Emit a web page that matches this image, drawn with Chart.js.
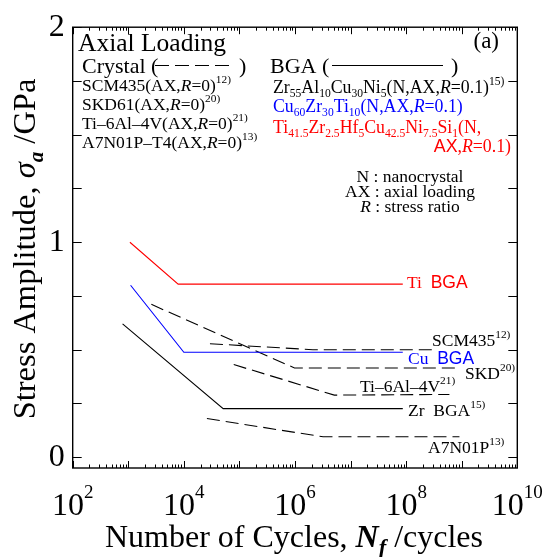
<!DOCTYPE html>
<html><head><meta charset="utf-8">
<script src="https://cdn.jsdelivr.net/npm/chart.js@4.4.1/dist/chart.umd.min.js"></script>
<style>html,body{margin:0;padding:0;background:#fff}#wrap{width:552px;height:557px;position:relative}</style>
</head><body><div id="wrap"><canvas id="c" width="552" height="557"></canvas></div>
<script>
// ---- data (x = number of cycles, y = stress amplitude / GPa) ----
const xTickValues = [1e2, 1e4, 1e6, 1e8, 1e10];
const xTickExponents = ['2', '4', '6', '8', '10'];
const yTickValues = [0, 0.25, 0.5, 0.75, 1, 1.25, 1.5, 1.75, 2];
const yTickLabels = {0: '0', 1: '1', 2: '2'};

const tiBgaN  = [1.07e3, 7.9e3, 8.7e7];  const tiBgaS  = [1.00, 0.805, 0.805];
const cuBgaN  = [1.1e3, 1.0e4, 8.7e7];   const cuBgaS  = [0.80, 0.488, 0.488];
const zrBgaN  = [7.9e2, 5.1e4, 8.7e7];   const zrBgaS  = [0.62, 0.226, 0.226];
const scm435N = [2.95e4, 2.1e6, 3.0e8];  const scm435S = [0.528, 0.50, 0.50];
const skdN    = [2.6e3, 9.8e5, 9.1e8];   const skdS    = [0.711, 0.415, 0.415];
const ti64N   = [7.9e4, 5.1e6, 6.0e8];   const ti64S   = [0.431, 0.289, 0.292];
const a7n01pN = [2.6e4, 3.2e6, 9.1e8];   const a7n01pS = [0.18, 0.095, 0.095];

const seriesNames = ['Ti BGA', 'Cu BGA', 'Zr BGA', 'SCM435', 'SKD', 'Ti-6Al-4V', 'A7N01P'];

// ---- drawing helpers ----
const SERIF = '"Liberation Serif","Times New Roman",serif';
const SANS = '"Liberation Sans",Arial,sans-serif';

function parseRich(str) {
  const out = []; let i = 0, it = false, bd = false, sans = false, buf = '';
  const flush = () => { if (buf) { out.push({t: buf, m: 'n', it, bd, sans}); buf = ''; } };
  while (i < str.length) {
    const c = str[i];
    if (c === '*') { flush(); it = !it; i++; continue; }
    if (c === '#') { flush(); bd = !bd; i++; continue; }
    if (c === '~') { flush(); sans = !sans; i++; continue; }
    if ((c === '_' || c === '^') && str[i + 1] === '{') {
      flush();
      const j = str.indexOf('}', i + 2);
      out.push({t: str.slice(i + 2, j), m: c === '_' ? 'sub' : 'sup', it, bd, sans});
      i = j + 1; continue;
    }
    buf += c; i++;
  }
  flush();
  return out;
}
function drawRich(ctx, str, x, y, size, color, align, subScale) {
  const parts = parseRich(str);
  const sc = subScale || 0.65;
  const fontFor = p => {
    const s = p.m === 'n' ? size : size * sc;
    return (p.it ? 'italic ' : '') + (p.bd ? 'bold ' : '') + s + 'px ' + (p.sans ? SANS : SERIF);
  };
  let w = 0;
  parts.forEach(p => { ctx.font = fontFor(p); p.w = ctx.measureText(p.t).width; w += p.w; });
  let cx = align === 'right' ? x - w : align === 'center' ? x - w / 2 : x;
  ctx.fillStyle = color; ctx.textAlign = 'left'; ctx.textBaseline = 'alphabetic';
  parts.forEach(p => {
    ctx.font = fontFor(p);
    const dy = p.m === 'sub' ? size * 0.25 : p.m === 'sup' ? -size * 0.45 : 0;
    ctx.fillText(p.t, cx, y + dy);
    cx += p.w;
  });
}

const mk = (N, S) => N.map((n, i) => ({x: n, y: S[i]}));
const base = {borderWidth: 1.1, pointRadius: 0, fill: false, tension: 0};
const DASH = [13, 6];

const datasets = [
  {...base, label: seriesNames[0], data: mk(tiBgaN, tiBgaS), borderColor: '#ff0000'},
  {...base, label: seriesNames[1], data: mk(cuBgaN, cuBgaS), borderColor: '#0000ff'},
  {...base, label: seriesNames[2], data: mk(zrBgaN, zrBgaS), borderColor: '#000000'},
  {...base, label: seriesNames[3], data: mk(scm435N, scm435S), borderColor: '#000000', borderDash: DASH},
  {...base, label: seriesNames[4], data: mk(skdN, skdS), borderColor: '#000000', borderDash: DASH},
  {...base, label: seriesNames[5], data: mk(ti64N, ti64S), borderColor: '#000000', borderDash: DASH},
  {...base, label: seriesNames[6], data: mk(a7n01pN, a7n01pS), borderColor: '#000000', borderDash: DASH},
];

const decor = {
  id: 'decor',
  afterDraw(chart) {
    const ctx = chart.ctx, a = chart.chartArea, xs = chart.scales.x, ys = chart.scales.y;
    ctx.save();
    // frame
    ctx.strokeStyle = '#000'; ctx.lineWidth = 1.4; ctx.setLineDash([]);
    ctx.strokeRect(a.left, a.top, a.right - a.left, a.bottom - a.top);
    // x ticks (log, major + minor) on bottom and top
    ctx.lineWidth = 1;
    ctx.beginPath();
    for (let d = 2; d <= 10; d++) {
      for (let k = 1; k <= 9; k++) {
        if (d === 10 && k > 1) break;
        const v = k * Math.pow(10, d);
        const px = Math.round(xs.getPixelForValue(v)) + 0.5;
        const len = k === 1 ? 7 : 3.5;
        ctx.moveTo(px, a.bottom); ctx.lineTo(px, a.bottom - len);
        ctx.moveTo(px, a.top); ctx.lineTo(px, a.top + len);
      }
    }
    // y ticks left and right
    yTickValues.forEach(v => {
      const py = Math.round(ys.getPixelForValue(v)) + 0.5;
      ctx.moveTo(a.left, py); ctx.lineTo(a.left + 9, py);
      ctx.moveTo(a.right, py); ctx.lineTo(a.right - 9, py);
    });
    ctx.stroke();
    // x tick labels 10^n
    xTickValues.forEach((v, i) => {
      const px = xs.getPixelForValue(v);
      ctx.font = '32px ' + SERIF; const w1 = ctx.measureText('10').width;
      ctx.font = '19px ' + SERIF; const w2 = ctx.measureText(xTickExponents[i]).width;
      const x0 = px - (w1 + w2) / 2;
      ctx.fillStyle = '#000'; ctx.textAlign = 'left'; ctx.textBaseline = 'alphabetic';
      ctx.font = '32px ' + SERIF; ctx.fillText('10', x0, 515);
      ctx.font = '19px ' + SERIF; ctx.fillText(xTickExponents[i], x0 + w1, 498);
    });
    // axis titles
    drawRich(ctx, 'Number of Cycles, #*N_{f}*# /cycles', 294, 547, 32, '#000', 'center', 0.7);
    ctx.save();
    ctx.translate(35, 249); ctx.rotate(-Math.PI / 2);
    drawRich(ctx, 'Stress Amplitude, *σ#_{a}#* /GPa', 0, 0, 32.5, '#000', 'center', 0.65);
    ctx.restore();

    // legend block (left)
    drawRich(ctx, 'Axial Loading', 78, 51, 25.5, '#000', 'left');
    drawRich(ctx, 'Crystal (', 82, 73, 22, '#000', 'left');
    ctx.beginPath(); ctx.setLineDash([14, 6]); ctx.lineWidth = 1.1;
    ctx.moveTo(155, 65.5); ctx.lineTo(235, 65.5); ctx.stroke(); ctx.setLineDash([]);
    drawRich(ctx, ')', 239, 73, 22, '#000', 'left');
    drawRich(ctx, 'SCM435(AX,*R*=0)^{12)}', 82, 91, 17.5, '#000', 'left');
    drawRich(ctx, 'SKD61(AX,*R*=0)^{20)}', 82, 110, 17.5, '#000', 'left');
    drawRich(ctx, 'Ti–6Al–4V(AX,*R*=0)^{21)}', 82, 129, 17.5, '#000', 'left');
    drawRich(ctx, 'A7N01P–T4(AX,*R*=0)^{13)}', 82, 148, 17.5, '#000', 'left');
    // legend block (right)
    drawRich(ctx, '(a)', 499, 48, 23, '#000', 'right');
    drawRich(ctx, 'BGA (', 270, 73, 22, '#000', 'left');
    ctx.beginPath(); ctx.lineWidth = 1.1;
    ctx.moveTo(332, 65.5); ctx.lineTo(443, 65.5); ctx.stroke();
    drawRich(ctx, ')', 451, 73, 22, '#000', 'left');
    drawRich(ctx, 'Zr_{55}Al_{10}Cu_{30}Ni_{5}(N,AX,*R*=0.1)^{15)}', 273, 93, 17.8, '#000', 'left');
    drawRich(ctx, 'Cu_{60}Zr_{30}Ti_{10}(N,AX,*R*=0.1)', 273, 112, 17.8, '#0000ff', 'left');
    drawRich(ctx, 'Ti_{41.5}Zr_{2.5}Hf_{5}Cu_{42.5}Ni_{7.5}Si_{1}(N,', 273, 133, 17.8, '#ff0000', 'left');
    drawRich(ctx, '~AX~,*R*=0.1)', 511, 152, 17.8, '#ff0000', 'right');
    drawRich(ctx, 'N : nanocrystal', 410, 182, 17.5, '#000', 'center');
    drawRich(ctx, 'AX : axial loading', 410, 197, 17.5, '#000', 'center');
    drawRich(ctx, '*R* : stress ratio', 410, 212, 17.5, '#000', 'center');

    // series labels
    drawRich(ctx, 'Ti  ~BGA~', 407, 288, 17.5, '#ff0000', 'left');
    drawRich(ctx, 'SCM435^{12)}', 432, 346, 17.5, '#000', 'left');
    drawRich(ctx, 'Cu  ~BGA~', 408, 364, 17.5, '#0000ff', 'left');
    drawRich(ctx, 'SKD^{20)}', 465, 379, 17.5, '#000', 'left');
    drawRich(ctx, 'Ti–6Al–4V^{21)}', 360, 392, 17.5, '#000', 'left');
    drawRich(ctx, 'Zr  BGA^{15)}', 408, 416, 17.5, '#000', 'left');
    drawRich(ctx, 'A7N01P^{13)}', 428, 453, 17.5, '#000', 'left');
    ctx.restore();
  }
};

new Chart(document.getElementById('c'), {
  type: 'line',
  data: {datasets},
  options: {
    responsive: false, animation: false, devicePixelRatio: 1,
    parsing: true,
    layout: {padding: {top: 23, right: 34.7, left: 0, bottom: 0}},
    plugins: {legend: {display: false}, tooltip: {enabled: false}, title: {display: false}},
    scales: {
      x: {
        type: 'logarithmic', min: 1e2, max: 1e10,
        grid: {display: false, drawTicks: false}, border: {display: false},
        ticks: {display: false},
        afterBuildTicks: s => { s.ticks = xTickValues.map(v => ({value: v})); },
        afterFit: s => { s.height = 89; }
      },
      y: {
        type: 'linear', min: -0.05, max: 2,
        grid: {display: false, drawTicks: false}, border: {display: false},
        afterBuildTicks: s => { s.ticks = yTickValues.map(v => ({value: v})); },
        ticks: {
          autoSkip: false, padding: 8, color: '#000',
          font: {family: SERIF, size: 32},
          callback: v => (yTickLabels[v] !== undefined ? yTickLabels[v] : '')
        },
        afterFit: s => { s.width = 72.7; }
      }
    }
  },
  plugins: [decor]
});
</script>
</body></html>
